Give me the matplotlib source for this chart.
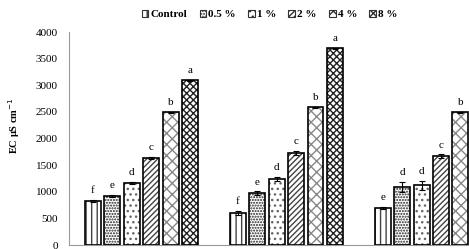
import matplotlib.pyplot as plt
import numpy as np

plt.rcParams['font.family'] = ['Liberation Serif', 'DejaVu Serif']
plt.rcParams['hatch.linewidth'] = 1.0

treatments = ["Control", "0.5 %", "1 %", "2 %", "4 %", "8 %"]
n_groups = 3

# EC values per treatment, one entry per group (nan = no bar)
ec_control = [826, 600, 695]
ec_05 = [920, 976, 1090]
ec_1 = [1164, 1239, 1120]
ec_2 = [1634, 1728, 1671]
ec_4 = [2497, 2591, 2497]
ec_8 = [3098, 3700, np.nan]

err_control = [15, 45, 20]
err_05 = [15, 30, 90]
err_1 = [15, 45, 90]
err_2 = [15, 45, 30]
err_4 = [10, 10, 10]
err_8 = [10, 10, np.nan]

letters_control = ["f", "f", "e"]
letters_05 = ["e", "e", "d"]
letters_1 = ["d", "d", "d"]
letters_2 = ["c", "c", "c"]
letters_4 = ["b", "b", "b"]
letters_8 = ["a", "a", ""]

values = [ec_control, ec_05, ec_1, ec_2, ec_4, ec_8]
errors = [err_control, err_05, err_1, err_2, err_4, err_8]
letters = [letters_control, letters_05, letters_1, letters_2, letters_4, letters_8]
hatches = ["|||", "......", "...", "//////", "xxx", "xxxxx"]
hatchcols = ["#444444", "#222222", "#666666", "#444444", "#888888", "#222222"]

fig = plt.figure(figsize=(4.69, 2.49), dpi=100)
ax = fig.add_axes([0.147, 0.016, 0.853, 0.855])

x = np.arange(n_groups)
pitch = 0.134
width = 0.11
handles = []
for i in range(6):
    pos = x + (i - 2.5) * pitch
    vals = np.array(values[i], dtype=float)
    errs = np.array(errors[i], dtype=float)
    ok = ~np.isnan(vals)
    ax.bar(pos[ok], vals[ok], width, color="white", edgecolor=hatchcols[i],
           hatch=hatches[i], linewidth=0, zorder=2)
    ax.bar(pos[ok], vals[ok], width, color="none", edgecolor="black",
           linewidth=1.2, zorder=3)
    ax.errorbar(pos[ok], vals[ok], yerr=errs[ok], fmt="none", ecolor="black",
                elinewidth=0.8, capsize=2, capthick=0.8, zorder=4)
    for p, v, e, t in zip(pos[ok], vals[ok], errs[ok], np.array(letters[i])[ok]):
        ax.text(p, v + e + 90, t, ha="center", va="bottom", fontsize=8)
    h = plt.Rectangle((0, 0), 1, 1, facecolor="white", edgecolor="#333333",
                      hatch=hatches[i], linewidth=0.8)
    handles.append(h)

ax.set_xlim(-0.5, 2.26)
ax.set_ylim(0, 4000)
ax.set_yticks(range(0, 4001, 500))
ax.set_xticks([])
ax.tick_params(axis="y", length=0, labelsize=8, pad=8)
ax.spines["top"].set_visible(False)
ax.spines["right"].set_visible(False)
ax.spines["left"].set_color("#999999")
ax.spines["bottom"].set_color("#999999")
ax.set_ylabel("EC µS cm$^{-1}$", fontsize=7.5, fontweight="bold")
ax.yaxis.set_label_coords(-0.118, 0.56)

fig.legend(handles, treatments, loc="upper center", bbox_to_anchor=(0.575, 1.0), ncol=6,
           frameon=False, prop={"weight": "bold", "size": 8}, handlelength=0.6,
           handleheight=0.6, handletextpad=0.2, columnspacing=1.1)

fig.savefig("out.png", dpi=100)
